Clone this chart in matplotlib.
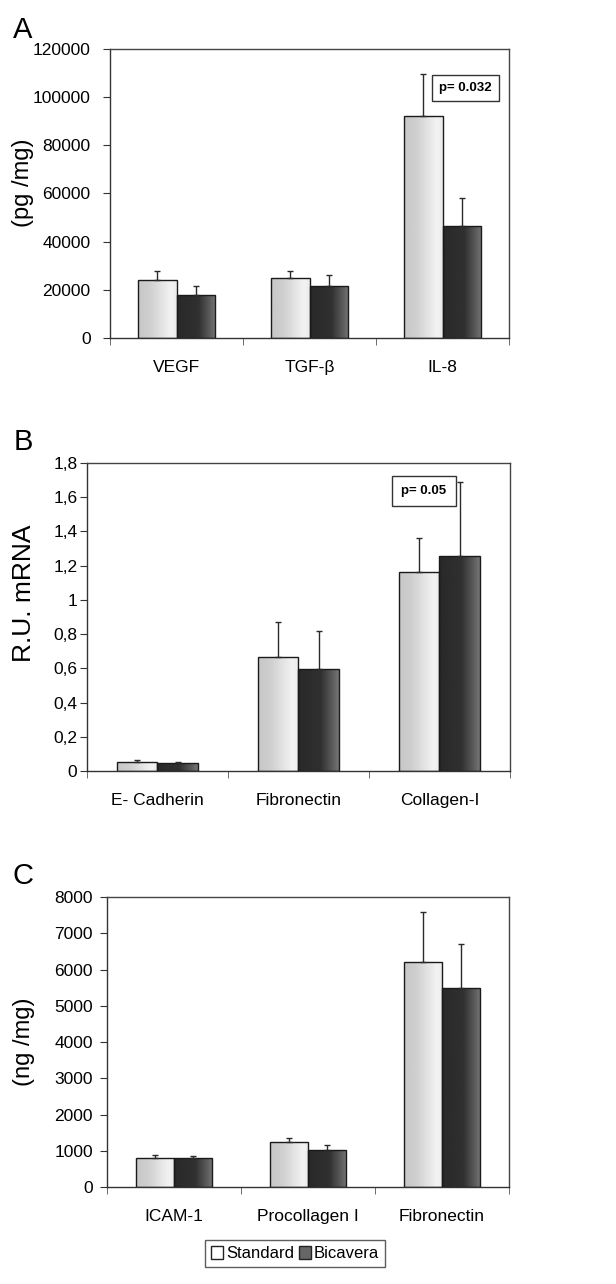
import numpy as np
import matplotlib
matplotlib.use("Agg")
import matplotlib.pyplot as plt
from matplotlib.patches import Patch

# panel A: protein, pg/mg
a_cats = ["VEGF", "TGF-β", "IL-8"]
a_std = [24000, 25000, 92000]
a_std_err = [4000, 2800, 17500]
a_bic = [18000, 21500, 46300]
a_bic_err = [3400, 4800, 12000]
a_ticks = [0, 20000, 40000, 60000, 80000, 100000, 120000]

# panel B: mRNA, relative units
b_cats = ["E- Cadherin", "Fibronectin", "Collagen-I"]
b_std = [0.053, 0.668, 1.164]
b_std_err = [0.010, 0.203, 0.195]
b_bic = [0.045, 0.594, 1.258]
b_bic_err = [0.008, 0.222, 0.433]
b_ticks = [0, 0.2, 0.4, 0.6, 0.8, 1.0, 1.2, 1.4, 1.6, 1.8]
b_ticklabels = ["0", "0,2", "0,4", "0,6", "0,8", "1", "1,2", "1,4", "1,6", "1,8"]

# panel C: protein, ng/mg
c_cats = ["ICAM-1", "Procollagen I", "Fibronectin"]
c_std = [810, 1240, 6200]
c_std_err = [80, 100, 1390]
c_bic = [790, 1010, 5500]
c_bic_err = [75, 155, 1195]
c_ticks = [0, 1000, 2000, 3000, 4000, 5000, 6000, 7000, 8000]

series_names = ["Standard", "Bicavera"]

FONT = ["Liberation Sans", "DejaVu Sans"]

BAR_W = 0.286


def gradient(kind):
    t = np.linspace(0, 1, 64)
    if kind == "std":
        v = np.interp(t, [0, 0.3, 0.85, 1], [0.78, 0.81, 0.95, 0.92])
    else:
        v = np.interp(t, [0, 0.55, 0.8, 1], [0.16, 0.19, 0.33, 0.46])
    return v[np.newaxis, :]


def draw_panel(ax, cats, std, std_err, bic, bic_err, ticks, ticklabels, ymax,
               ylabel, ylabel_size, ylabel_xy, tick_pad):
    x = np.arange(len(cats))
    for vals, errs, kind, off in [(std, std_err, "std", -BAR_W / 2),
                                  (bic, bic_err, "bic", BAR_W / 2)]:
        bars = ax.bar(x + off, vals, BAR_W, facecolor="none",
                      edgecolor="#1a1a1a", linewidth=1.0, zorder=3)
        for b in bars:
            im = ax.imshow(gradient(kind), cmap="gray", vmin=0, vmax=1,
                           extent=[b.get_x(), b.get_x() + b.get_width(), 0, b.get_height()],
                           aspect="auto", zorder=2, interpolation="bilinear")
            im.set_clip_path(b)
        ax.errorbar(x + off, vals, yerr=[np.zeros(len(vals)), errs], fmt="none",
                    ecolor="#2a2a2a", elinewidth=1.0, capsize=2, capthick=1.0, zorder=4)

    ax.set_xlim(-0.5, len(cats) - 0.5)
    ax.set_ylim(0, ymax)
    ax.set_yticks(ticks)
    ax.set_yticklabels(ticklabels if ticklabels else [str(t) for t in ticks],
                       family=FONT, fontsize=12.5)
    ax.set_xticks(x)
    ax.set_xticklabels(cats, family=FONT, fontsize=12.5)
    ax.set_xticks(np.arange(len(cats) + 1) - 0.5, minor=True)
    ax.tick_params(axis="x", which="major", length=0, pad=16)
    ax.tick_params(axis="x", which="minor", length=5, direction="out", color="#555")
    ax.tick_params(axis="y", length=5, direction="out", pad=tick_pad, color="#333")
    for side in ["top", "right"]:
        ax.spines[side].set_color("#444")
    for side in ["left", "bottom"]:
        ax.spines[side].set_color("#333")
    for s in ax.spines.values():
        s.set_linewidth(1.0)
    ax.set_ylabel(ylabel, family=FONT, fontsize=ylabel_size)
    ax.yaxis.set_label_coords(*ylabel_xy)


fig = plt.figure(figsize=(6.16, 12.84), dpi=100)

axA = fig.add_axes([0.1786, 0.7368, 0.6477, 0.2251])
draw_panel(axA, a_cats, a_std, a_std_err, a_bic, a_bic_err, a_ticks, None, 120000,
           "(pg /mg)", 17, (-0.19, 0.536), 9)
axA.text(2.17, 103800, "p= 0.032", ha="center", va="center", family=FONT,
         fontsize=9.5, fontweight="bold",
         bbox=dict(boxstyle="square,pad=0.55", facecolor="white", edgecolor="#333", linewidth=1.0),
         zorder=5)

axB = fig.add_axes([0.1412, 0.3995, 0.6867, 0.2399])
draw_panel(axB, b_cats, b_std, b_std_err, b_bic, b_bic_err, b_ticks, b_ticklabels, 1.8,
           "R.U. mRNA", 19, (-0.12, 0.578), 2)
axB.text(1.89, 1.636, "p= 0.05", ha="center", va="center", family=FONT,
         fontsize=9.5, fontweight="bold",
         bbox=dict(boxstyle="square,pad=0.7", facecolor="white", edgecolor="#333", linewidth=1.0),
         zorder=5)

axC = fig.add_axes([0.1737, 0.0755, 0.6526, 0.2259])
draw_panel(axC, c_cats, c_std, c_std_err, c_bic, c_bic_err, c_ticks, None, 8000,
           "(ng /mg)", 17, (-0.18, 0.5), 5)

for label, ypx in [("A", 29.5), ("B", 442.5), ("C", 876)]:
    fig.text(23 / 616, 1 - ypx / 1284, label, ha="center", va="center",
             family=FONT, fontsize=21)

handles = [Patch(facecolor="white", edgecolor="#222", linewidth=1.0),
           Patch(facecolor="#666666", edgecolor="#222", linewidth=1.0)]
leg = fig.legend(handles, series_names, ncol=2, loc="center",
                 bbox_to_anchor=(0.479, 0.0238), frameon=True, fancybox=False,
                 edgecolor="#333", handlelength=0.75, handleheight=0.8,
                 handletextpad=0.15, columnspacing=0.3, borderpad=0.35,
                 borderaxespad=0, prop={"family": FONT, "size": 12})
leg.get_frame().set_linewidth(1.0)

fig.savefig("out.png", dpi=100)
